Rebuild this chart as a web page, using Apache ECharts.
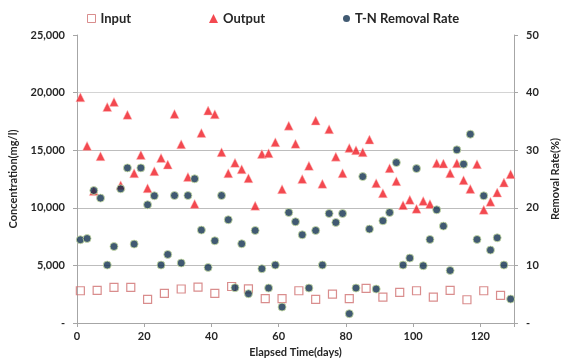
<!DOCTYPE html>
<html><head><meta charset="utf-8">
<script src="https://cdn.jsdelivr.net/npm/echarts@6/dist/echarts.min.js"></script>
<style>html,body{margin:0;padding:0;background:#fff}#c{width:569px;height:363px}</style>
</head><body><div id="c"></div>
<script>
const inputDays = [1,6,11,16,21,26,31,36,41,46,51,56,61,66,71,76,81,86,91,96,101,106,111,116,121,126];
const inputValues = [2800,2830,3090,3090,2050,2570,2950,3120,2570,3170,2970,2110,2110,2800,2050,2510,2110,3000,2250,2650,2800,2250,2830,2020,2800,2390];
const outputDays = [1,3,5,7,9,11,13,15,17,19,21,23,25,27,29,31,33,35,37,39,41,43,45,47,49,51,53,55,57,59,61,63,65,67,69,71,73,75,77,79,81,83,85,87,89,91,93,95,97,99,101,103,105,107,109,111,113,115,117,119,121,123,125,127,129];
const outputValues = [19590,15370,11450,14480,18750,19190,11950,18070,13000,14590,11700,13180,14330,13750,18150,15520,12680,10340,16500,18440,18120,14830,13000,13900,13350,12570,10170,14680,14740,15690,11620,17130,15550,12490,13640,17570,12080,16820,14440,13000,15200,15000,14830,15920,12140,11270,13440,12310,10230,10690,9910,10580,10320,13870,13840,13000,13870,12400,11640,13790,9820,10520,11320,12190,12920];
const rateDays = [1,3,5,7,9,11,13,15,17,19,21,23,25,27,29,31,33,35,37,39,41,43,45,47,49,51,53,55,57,59,61,63,65,67,69,71,73,75,77,79,81,83,85,87,89,91,93,95,97,99,101,103,105,107,109,111,113,115,117,119,121,123,125,127,129];
const rateValues = [14.45,14.67,23.0,21.68,10.06,13.28,23.29,26.93,13.7,26.93,20.52,22.08,10.06,11.9,22.13,10.41,22.13,25.03,16.13,9.64,14.27,22.13,17.92,6.12,13.75,5.08,16.06,9.42,6.07,10.06,2.77,19.18,17.57,15.31,6.07,16.06,10.06,19.01,17.45,19.01,1.61,6.07,25.42,16.3,5.9,17.74,19.18,27.85,10.06,11.27,26.81,9.94,14.5,19.65,16.82,9.12,30.06,27.58,32.78,14.5,22.08,12.66,14.79,10.06,4.16];
const xTicks = [0,20,40,60,80,100,120];
const leftTicks = [0,5000,10000,15000,20000,25000];
const rightTicks = [0,10,20,30,40,50];
const seriesNames = ['Input','Output','T-N Removal Rate'];

const pair = (xs, ys) => xs.map((d, i) => [d, ys[i]]);
const font = 'Lato, "Noto Sans", sans-serif';
const lab = {color:'#262626', fontSize:11, fontWeight:'bold', fontFamily:font};
const axisLine = {show:true, lineStyle:{color:'#a6a6a6', width:1}};
const legText = {fontSize:13, fontWeight:'bold', color:'#262626', fontFamily:font};
const chart = echarts.init(document.getElementById('c'), null, {renderer:'canvas'});
chart.setOption({
  animation:false,
  backgroundColor:'#fff',
  grid:{left:74, right:47, top:35, bottom:40},
  legend:[
    {left:82, top:7, itemWidth:8, itemHeight:8, itemGap:4, textStyle:legText,
     data:[{name:seriesNames[0], icon:'rect', itemStyle:{color:'#fff', borderColor:'#d07070', borderWidth:1}}]},
    {left:204, top:7, itemWidth:9, itemHeight:9, itemGap:4, textStyle:legText,
     data:[{name:seriesNames[1], icon:'triangle', itemStyle:{color:'#f01c24', borderWidth:0}}]},
    {left:338, top:7, itemWidth:7, itemHeight:7, itemGap:4, textStyle:legText,
     data:[{name:seriesNames[2], icon:'circle', itemStyle:{color:'#12314f', borderWidth:0}}]}
  ],
  xAxis:{type:'value', min:0, max:130, interval:20,
    name:'Elapsed Time(days)', nameLocation:'middle', nameGap:23,
    nameTextStyle:{...lab},
    axisLine:axisLine, axisTick:{show:true, length:4, lineStyle:{color:'#a6a6a6'}},
    axisLabel:{...lab, margin:8, formatter:v=>xTicks.includes(v)?String(v):''},
    splitLine:{show:false}},
  yAxis:[
    {type:'value', min:0, max:25000, interval:5000, position:'left',
     name:'Concentration(mg/l)', nameLocation:'middle', nameGap:58, nameRotate:90,
     nameTextStyle:{...lab},
     axisLine:axisLine, axisTick:{show:true, length:4, lineStyle:{color:'#a6a6a6'}},
     axisLabel:{...lab, margin:12, formatter:v=>leftTicks.includes(v)?(v===0?'-':v.toLocaleString('en-US')):''},
     splitLine:{show:true, lineStyle:{color:['rgba(0,0,0,0)','#bdbdbd','#bdbdbd','#bdbdbd','#d4d4d4','rgba(0,0,0,0)'], width:1}}},
    {type:'value', min:0, max:50, interval:10, position:'right',
     name:'Removal Rate(%)', nameLocation:'middle', nameGap:36, nameRotate:90,
     nameTextStyle:{...lab},
     axisLine:axisLine, axisTick:{show:true, length:4, lineStyle:{color:'#a6a6a6'}},
     axisLabel:{...lab, margin:12, formatter:v=>rightTicks.includes(v)?(v===0?'-':String(v)):''},
     splitLine:{show:false}}
  ],
  series:[
    {name:seriesNames[0], type:'scatter', yAxisIndex:0, symbol:'rect', symbolSize:8, z:2,
     itemStyle:{color:'rgba(255,255,255,0)', borderColor:'#d07070', borderWidth:1.2},
     data:pair(inputDays, inputValues)},
    {name:seriesNames[1], type:'scatter', yAxisIndex:0, symbol:'triangle', symbolSize:9, z:3,
     itemStyle:{color:'#f01c24', borderColor:'#ffc0c0', borderWidth:0.6},
     data:pair(outputDays, outputValues)},
    {name:seriesNames[2], type:'scatter', yAxisIndex:1, symbol:'circle', symbolSize:8, z:4,
     itemStyle:{color:'#12314f', borderColor:'#cfe3a8', borderWidth:1},
     data:pair(rateDays, rateValues)}
  ]
});
</script></body></html>
